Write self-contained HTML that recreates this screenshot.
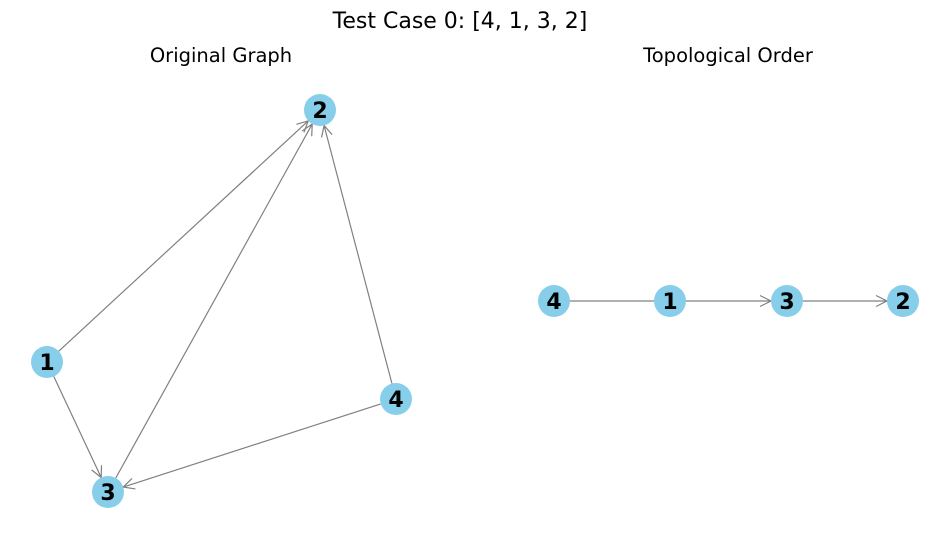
<!DOCTYPE html>
<html><head><meta charset="utf-8"><style>
html,body{margin:0;padding:0;background:#fff;}
svg{display:block;font-family:"DejaVu Sans","Liberation Sans",sans-serif;}
</style></head><body>
<svg id="s" width="950" height="542" viewBox="0 0 950 542" xmlns="http://www.w3.org/2000/svg">
<text x="460" y="28" text-anchor="middle" font-size="22">Test Case 0: [4, 1, 3, 2]</text>
<text x="221" y="62" text-anchor="middle" font-size="19.5">Original Graph</text>
<text x="728" y="62" text-anchor="middle" font-size="19.5">Topological Order</text>
<g id="edges" stroke="#808080" stroke-width="1.2" fill="none"></g>
<g id="nodes"></g>
</svg>
<script>
var N={a2:[320,110],a1:[47,362],a4:[396,399],a3:[108,492],b4:[554,301],b1:[670,301],b3:[787,301],b2:[903,301]};
var E=[["a1","a2",1],["a3","a2",1],["a4","a2",1],["a1","a3",1],["a4","a3",1],["b4","b1",0],["b1","b3",1],["b3","b2",1]];
var ns="http://www.w3.org/2000/svg",ge=document.getElementById("edges"),gn=document.getElementById("nodes");
var R=16;
E.forEach(function(e){var p=N[e[0]],q=N[e[1]];var dx=q[0]-p[0],dy=q[1]-p[1],L=Math.hypot(dx,dy),ux=dx/L,uy=dy/L;
var x1=p[0]+ux*R,y1=p[1]+uy*R,x2=q[0]-ux*R,y2=q[1]-uy*R;
var d="M"+x1+","+y1+"L"+x2+","+y2;
if(e[2]){var bx=x2-ux*11,by=y2-uy*11,px=-uy*5.5,py=ux*5.5;d+="M"+(bx+px)+","+(by+py)+"L"+x2+","+y2+"L"+(bx-px)+","+(by-py);}
var el=document.createElementNS(ns,"path");el.setAttribute("d",d);ge.appendChild(el);});
for(var k in N){var c=document.createElementNS(ns,"circle");c.setAttribute("cx",N[k][0]);c.setAttribute("cy",N[k][1]);c.setAttribute("r",R);c.setAttribute("fill","#87CEEB");gn.appendChild(c);
var t=document.createElementNS(ns,"text");t.setAttribute("x",N[k][0]);t.setAttribute("y",N[k][1]+8);t.setAttribute("text-anchor","middle");t.setAttribute("font-size","22");t.setAttribute("font-weight","bold");t.textContent=k[1];gn.appendChild(t);}
</script>
</body></html>
